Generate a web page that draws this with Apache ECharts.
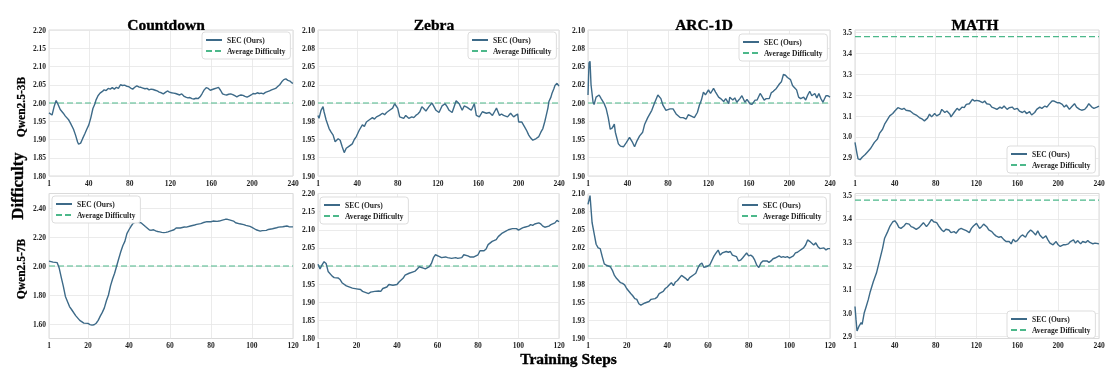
<!DOCTYPE html>
<html>
<head>
<meta charset="utf-8">
<script src="https://cdn.jsdelivr.net/npm/echarts@6/dist/echarts.min.js"></script>
<style>
html,body{margin:0;padding:0;background:#fff;}
#chart{width:1115px;height:368px;}
#chart svg{will-change:transform;}
</style>
</head>
<body>
<div id="chart"></div>
<script>
// ---------------- DATA ----------------
const titles = ['Countdown', 'Zebra', 'ARC-1D', 'MATH'];
const rowLabels = ['Qwen2.5-3B', 'Qwen2.5-7B'];
const yTitle = 'Difficulty';
const xTitle = 'Training Steps';
const seriesNames = ['SEC (Ours)', 'Average Difficulty'];

const xTicks240 = [1, 40, 80, 120, 160, 200, 240];
const xTicks120 = [1, 20, 40, 60, 80, 100, 120];

const yTicks05 = [1.80, 1.85, 1.90, 1.95, 2.00, 2.05, 2.10, 2.15, 2.20];
const yLabels05 = ['1.80', '1.85', '1.90', '1.95', '2.00', '2.05', '2.10', '2.15', '2.20'];
const yTicks025 = [1.90, 1.925, 1.95, 1.975, 2.00, 2.025, 2.05, 2.075, 2.10];
const yLabels025 = ['1.90', '1.93', '1.95', '1.98', '2.00', '2.02', '2.05', '2.08', '2.10'];
const yTicksMath = [2.9, 3.0, 3.1, 3.2, 3.3, 3.4, 3.5];
const yLabelsMath = ['2.9', '3.0', '3.1', '3.2', '3.3', '3.4', '3.5'];
const yTicksCd7 = [1.6, 1.8, 2.0, 2.2, 2.4];
const yLabelsCd7 = ['1.60', '1.80', '2.00', '2.20', '2.40'];

const avgDifficulty = [2.0, 2.0, 2.0, 3.48, 2.0, 2.0, 2.0, 3.48];

// Countdown, Qwen2.5-3B
const stepsCd3 = [1,4,6,8,10,12,15,17,20,22,25,27,29,30,32,34,36,38,40,42,44,46,47,49,51,53,55,57,59,61,63,65,67,69,71,73,75,77,79,81,83,85,87,89,91,93,95,97,99,101,103,105,107,109,111,113,115,117,119,121,123,125,127,129,131,133,135,137,139,141,143,145,147,149,151,153,155,157,159,161,163,165,167,169,171,173,175,177,179,181,183,185,187,189,191,193,195,197,199,201,203,205,207,209,211,213,215,217,219,221,223,225,227,229,231,233,235,237,239,240];
const valsCd3 = [1.973,1.967,1.99,2.007,1.995,1.982,1.972,1.964,1.955,1.945,1.928,1.912,1.893,1.887,1.89,1.903,1.915,1.928,1.94,1.96,1.985,1.998,2.008,2.02,2.027,2.031,2.036,2.034,2.04,2.038,2.042,2.038,2.043,2.04,2.05,2.048,2.049,2.046,2.045,2.041,2.038,2.043,2.047,2.044,2.043,2.041,2.039,2.04,2.036,2.038,2.037,2.035,2.033,2.03,2.028,2.025,2.029,2.033,2.03,2.028,2.027,2.026,2.024,2.022,2.025,2.019,2.016,2.014,2.015,2.012,2.011,2.013,2.012,2.017,2.026,2.036,2.042,2.04,2.035,2.037,2.039,2.041,2.043,2.035,2.025,2.023,2.022,2.024,2.025,2.023,2.02,2.017,2.02,2.022,2.021,2.018,2.016,2.019,2.022,2.026,2.025,2.028,2.026,2.027,2.025,2.029,2.031,2.033,2.036,2.038,2.04,2.045,2.05,2.058,2.064,2.066,2.062,2.06,2.055,2.054];

// Zebra, Qwen2.5-3B
const stepsZb3 = [1,2,4,6,7,9,12,14,16,18,21,23,25,27,29,32,35,37,39,42,45,47,49,52,55,57,59,62,65,67,69,72,75,77,80,82,84,86,88,91,94,96,98,100,102,104,106,108,111,114,116,118,121,124,127,129,131,134,136,138,141,144,146,149,151,153,156,158,161,164,166,168,171,174,176,178,181,183,185,187,189,192,195,197,199,200,203,206,208,210,212,214,217,220,222,224,226,227,229,230,232,233,235,236,238,240];
const valsZb3 = [1.983,1.979,1.99,1.995,1.988,1.977,1.965,1.96,1.956,1.947,1.951,1.949,1.94,1.932,1.938,1.941,1.944,1.95,1.954,1.963,1.97,1.968,1.974,1.977,1.98,1.978,1.981,1.983,1.986,1.984,1.987,1.99,1.993,1.999,1.993,1.981,1.98,1.979,1.983,1.979,1.981,1.98,1.983,1.985,1.988,1.995,1.992,1.989,1.995,2.0,1.995,1.99,1.987,1.996,1.999,1.995,1.99,1.987,1.995,2.003,1.999,1.99,1.996,1.994,1.992,1.99,1.999,1.983,1.981,1.988,1.987,1.986,1.987,1.983,1.988,1.993,1.983,1.985,1.983,1.982,1.981,1.986,1.981,1.983,1.985,1.974,1.974,1.967,1.962,1.956,1.952,1.949,1.951,1.954,1.96,1.965,1.975,1.981,1.993,2.002,2.008,2.013,2.02,2.024,2.027,2.023];

// ARC-1D, Qwen2.5-3B
const stepsArc3 = [1,2,3,4,6,7,9,12,14,17,19,21,23,25,27,28,31,33,36,39,42,45,47,49,52,55,57,60,64,67,70,73,75,78,82,85,88,92,95,98,100,103,106,109,111,113,115,117,120,122,125,127,130,132,135,137,140,141,144,146,148,151,153,156,158,161,163,166,168,171,172,175,177,180,182,184,187,190,192,194,196,198,201,203,205,207,209,211,214,216,218,220,222,225,227,229,231,233,236,238,240];
const valsArc3 = [2.011,2.055,2.057,2.025,2.001,1.998,2.008,2.011,2.006,1.999,1.992,1.98,1.964,1.966,1.971,1.96,1.944,1.941,1.94,1.946,1.953,1.946,1.94,1.947,1.955,1.96,1.971,1.98,1.99,2.001,2.011,2.006,1.997,1.99,1.992,1.992,1.985,1.98,1.98,1.978,1.984,1.982,1.98,1.987,1.997,2.004,2.015,2.011,2.018,2.013,2.02,2.015,2.008,2.006,2.002,2.006,1.999,2.008,2.004,2.007,2.001,2.006,2.01,2.001,2.005,1.999,1.998,2.004,2.004,2.013,2.011,2.004,2.006,2.006,2.014,2.016,2.02,2.026,2.029,2.039,2.038,2.035,2.032,2.024,2.021,2.018,2.008,2.006,2.008,2.004,2.011,2.016,2.01,2.013,2.007,2.013,2.006,2.001,2.01,2.01,2.008];

// MATH, Qwen2.5-3B
const stepsMath3 = [1,3,4,6,8,11,13,16,18,20,23,25,28,30,32,35,38,40,43,47,49,51,55,58,61,64,67,69,72,74,76,79,81,84,86,89,91,94,95,98,101,103,106,108,110,113,116,118,120,123,126,128,130,133,135,138,140,143,145,147,150,152,155,157,160,162,165,167,169,172,174,177,179,182,184,187,189,191,194,196,199,201,204,206,208,211,213,216,218,221,223,226,228,230,233,235,238,240];
const valsMath3 = [2.974,2.919,2.895,2.891,2.903,2.916,2.927,2.943,2.958,2.974,2.99,3.017,3.037,3.061,3.077,3.101,3.112,3.124,3.14,3.132,3.137,3.128,3.124,3.112,3.105,3.093,3.085,3.077,3.09,3.109,3.096,3.112,3.101,3.109,3.132,3.117,3.124,3.109,3.096,3.117,3.137,3.128,3.143,3.14,3.156,3.159,3.18,3.172,3.175,3.172,3.164,3.172,3.159,3.156,3.143,3.137,3.132,3.143,3.137,3.148,3.132,3.14,3.143,3.132,3.137,3.124,3.117,3.124,3.112,3.121,3.105,3.117,3.132,3.143,3.137,3.148,3.143,3.156,3.172,3.172,3.164,3.164,3.156,3.143,3.153,3.132,3.143,3.159,3.143,3.132,3.128,3.132,3.143,3.159,3.143,3.137,3.143,3.148];

// Countdown, Qwen2.5-7B
const stepsCd7 = [1,3,5,6,7,8,9,11,12,14,16,18,20,21,22,23,24,25,26,27,28,29,30,31,32,33,34,35,36,37,38,39,40,41,42,43,44,45,46,47,48,49,50,51,52,53,54,55,56,57,58,59,60,62,63,65,67,68,70,72,73,75,76,78,80,81,83,84,86,87,88,89,91,92,94,96,97,99,100,102,104,105,107,108,110,112,113,115,117,118,120];
const valsCd7 = [2.034,2.027,2.023,1.984,1.92,1.86,1.79,1.72,1.70,1.658,1.625,1.606,1.604,1.596,1.592,1.595,1.605,1.625,1.654,1.68,1.711,1.76,1.80,1.863,1.91,1.95,2.0,2.05,2.098,2.14,2.17,2.223,2.25,2.274,2.294,2.302,2.303,2.3,2.297,2.285,2.272,2.26,2.248,2.247,2.25,2.242,2.238,2.235,2.232,2.23,2.232,2.235,2.24,2.25,2.262,2.262,2.269,2.268,2.276,2.283,2.287,2.292,2.298,2.306,2.305,2.31,2.308,2.31,2.318,2.322,2.322,2.318,2.31,2.298,2.291,2.285,2.28,2.273,2.266,2.25,2.24,2.244,2.246,2.252,2.257,2.264,2.268,2.271,2.276,2.271,2.27];

// Zebra, Qwen2.5-7B
const stepsZb7 = [1,2,3,4,5,6,8,9,11,12,13,15,17,18,20,22,23,25,26,27,29,31,32,33,35,36,38,40,41,43,44,46,48,49,50,51,53,54,56,57,58,59,61,62,64,65,67,69,70,72,73,75,76,78,80,81,83,84,85,87,89,90,92,94,95,97,99,100,102,103,105,106,107,108,110,111,112,113,115,116,118,119,120];
const valsZb7 = [2.005,1.992,2.003,2.012,2.007,1.985,1.972,1.968,1.967,1.962,1.953,1.945,1.941,1.939,1.937,1.935,1.93,1.926,1.924,1.928,1.93,1.931,1.93,1.938,1.942,1.949,1.947,1.949,1.956,1.966,1.975,1.98,1.984,1.986,1.992,1.998,1.994,1.992,1.998,2.007,2.023,2.031,2.026,2.023,2.025,2.023,2.021,2.023,2.021,2.023,2.031,2.028,2.025,2.025,2.031,2.042,2.042,2.047,2.059,2.068,2.073,2.081,2.091,2.097,2.1,2.103,2.103,2.099,2.105,2.107,2.11,2.114,2.112,2.116,2.119,2.116,2.11,2.107,2.11,2.114,2.119,2.126,2.122];

// ARC-1D, Qwen2.5-7B
const stepsArc7 = [1,2,3,4,5,6,7,8,9,10,12,13,14,15,17,18,19,20,22,23,24,25,26,27,29,31,32,34,35,36,38,39,40,41,42,43,44,45,47,48,49,50,51,53,54,55,56,57,58,59,60,61,63,64,65,66,67,69,70,71,72,74,75,76,77,79,80,81,82,83,84,85,86,87,89,90,91,92,93,95,96,97,98,99,100,102,103,104,105,107,108,109,110,112,113,114,115,117,118,119,120];
const valsArc7 = [2.085,2.097,2.06,2.045,2.03,2.025,2.024,2.013,2.003,2.001,1.999,1.994,1.987,1.983,1.977,1.976,1.974,1.969,1.962,1.959,1.955,1.954,1.948,1.946,1.949,1.951,1.954,1.955,1.957,1.962,1.965,1.969,1.971,1.974,1.977,1.973,1.978,1.98,1.987,1.985,1.983,1.98,1.984,1.988,1.99,1.997,2.002,2.004,1.998,1.999,2.0,2.002,2.014,2.018,2.022,2.015,2.018,2.02,2.019,2.02,2.015,2.013,2.007,2.008,2.011,2.018,2.014,2.015,2.013,2.008,2.001,1.998,2.004,2.007,2.007,2.005,2.007,2.01,2.011,2.014,2.012,2.013,2.012,2.013,2.011,2.014,2.018,2.019,2.021,2.025,2.029,2.036,2.034,2.029,2.032,2.027,2.024,2.025,2.022,2.024,2.024];

// MATH, Qwen2.5-7B
const stepsMath7 = [1,2,3,5,7,8,10,12,14,16,19,22,24,26,28,30,33,35,38,40,42,44,46,49,51,54,56,58,61,64,66,68,71,73,76,78,81,83,86,88,90,93,95,98,100,103,105,107,110,113,115,117,120,123,125,127,130,132,135,137,139,142,144,147,149,152,154,156,158,160,163,165,168,170,173,175,178,180,182,185,188,190,192,195,198,200,202,205,207,210,212,215,217,219,222,224,227,229,231,234,236,240];
const valsMath7 = [3.028,2.972,2.924,2.945,2.959,2.952,3.0,3.028,3.057,3.092,3.134,3.17,3.205,3.24,3.275,3.318,3.346,3.367,3.388,3.392,3.381,3.364,3.36,3.37,3.381,3.378,3.367,3.364,3.356,3.364,3.374,3.384,3.367,3.378,3.398,3.388,3.384,3.37,3.353,3.346,3.356,3.353,3.342,3.346,3.339,3.356,3.36,3.356,3.35,3.342,3.36,3.37,3.381,3.36,3.367,3.378,3.367,3.353,3.346,3.336,3.328,3.322,3.325,3.311,3.304,3.304,3.294,3.314,3.304,3.308,3.325,3.332,3.322,3.339,3.353,3.346,3.332,3.35,3.332,3.318,3.328,3.311,3.297,3.29,3.304,3.29,3.283,3.29,3.29,3.294,3.304,3.311,3.297,3.308,3.294,3.304,3.3,3.308,3.3,3.294,3.297,3.294];

// ---------------- LAYOUT / STYLE ----------------
const LINE_COLOR = '#3d6a88';
const AVG_COLOR = '#4cb88a';
const SERIF = 'Liberation Serif';

const panels = [
  {steps: stepsCd3, vals: valsCd3, xTicks: xTicks240, yTicks: yTicks05, yLabels: yLabels05, yMin: 1.80, yMax: 2.20},
  {steps: stepsZb3, vals: valsZb3, xTicks: xTicks240, yTicks: yTicks025, yLabels: yLabels025, yMin: 1.90, yMax: 2.10},
  {steps: stepsArc3, vals: valsArc3, xTicks: xTicks240, yTicks: yTicks025, yLabels: yLabels025, yMin: 1.90, yMax: 2.10},
  {steps: stepsMath3, vals: valsMath3, xTicks: xTicks240, yTicks: yTicksMath, yLabels: yLabelsMath, yMin: 2.813, yMax: 3.512},
  {steps: stepsCd7, vals: valsCd7, xTicks: xTicks120, yTicks: yTicksCd7, yLabels: yLabelsCd7, yMin: 1.5, yMax: 2.5},
  {steps: stepsZb7, vals: valsZb7, xTicks: xTicks120, yTicks: yTicks05, yLabels: yLabels05, yMin: 1.80, yMax: 2.20},
  {steps: stepsArc7, vals: valsArc7, xTicks: xTicks120, yTicks: yTicks025, yLabels: yLabels025, yMin: 1.90, yMax: 2.10},
  {steps: stepsMath7, vals: valsMath7, xTicks: xTicks240, yTicks: yTicksMath, yLabels: yLabelsMath, yMin: 2.892, yMax: 3.508}
];

const colLeft = [49, 318, 588, 855];
const colWidth = [244, 241, 242, 244];
const rowTop = [30, 193.5];
const rowHeight = [146, 145];
const legendPos = [
  {left: 202, top: 32}, {left: 468, top: 32}, {left: 739, top: 34}, {left: 1007, top: 146},
  {left: 52, top: 196}, {left: 320, top: 197}, {left: 738, top: 197}, {left: 1007, top: 311}
];
const titleX = [166, 434, 704, 975];

const labelFont = {fontFamily: SERIF, fontWeight: 'bold', fontSize: 7.5, color: '#1e1e1e'};

const grids = [], xAxes = [], yAxes = [], series = [], legends = [];
panels.forEach((p, i) => {
  const col = i % 4, row = Math.floor(i / 4);
  grids.push({
    left: colLeft[col], top: rowTop[row], width: colWidth[col], height: rowHeight[row],
    show: true, borderColor: '#dadada', borderWidth: 1, backgroundColor: 'transparent'
  });
  const xMax = p.xTicks[p.xTicks.length - 1];
  xAxes.push({
    gridIndex: i, type: 'value', min: p.xTicks[0], max: xMax,
    axisLine: {show: false},
    axisTick: {show: false, customValues: p.xTicks},
    axisLabel: Object.assign({customValues: p.xTicks, margin: 3, showMinLabel: true, showMaxLabel: true}, labelFont),
    splitLine: {show: true, lineStyle: {color: '#e6e6e6', width: 0.8}}
  });
  const labelMap = {};
  p.yTicks.forEach((v, k) => { labelMap[v.toFixed(4)] = p.yLabels[k]; });
  yAxes.push({
    gridIndex: i, type: 'value', min: p.yMin, max: p.yMax,
    axisLine: {show: false},
    axisTick: {show: false, customValues: p.yTicks},
    axisLabel: Object.assign({
      customValues: p.yTicks, margin: 3,
      formatter: v => labelMap[Number(v).toFixed(4)] || ''
    }, labelFont),
    splitLine: {show: true, lineStyle: {color: '#e6e6e6', width: 0.8}}
  });
  series.push({
    name: seriesNames[0], type: 'line', xAxisIndex: i, yAxisIndex: i,
    data: p.steps.map((s, k) => [s, p.vals[k]]),
    symbol: 'none', lineStyle: {color: LINE_COLOR, width: 1.4}, itemStyle: {color: LINE_COLOR},
    z: 3, silent: true
  });
  series.push({
    name: seriesNames[1], type: 'line', xAxisIndex: i, yAxisIndex: i,
    data: [[p.xTicks[0], avgDifficulty[i]], [xMax, avgDifficulty[i]]],
    symbol: 'none', lineStyle: {color: AVG_COLOR, width: 1.2, type: [6, 3]}, itemStyle: {color: AVG_COLOR},
    z: 2, silent: true
  });
  legends.push({
    data: seriesNames, orient: 'vertical',
    left: legendPos[i].left, top: legendPos[i].top,
    backgroundColor: '#ffffff', borderColor: '#dddddd', borderWidth: 1, borderRadius: 3,
    padding: [4, 5, 4, 3], itemGap: 3, itemWidth: 16, itemHeight: 8,
    itemStyle: {color: 'rgba(0,0,0,0)', borderColor: 'rgba(0,0,0,0)', borderWidth: 0, opacity: 0},
    textStyle: {fontFamily: SERIF, fontWeight: 'bold', fontSize: 7.5, color: '#1e1e1e', padding: [0, 0, 0, 0]},
    selectedMode: false
  });
});

const bigText = {fontFamily: SERIF, fontWeight: 'bold', fill: '#000', stroke: '#000', lineWidth: 0.35, textAlign: 'center', textVerticalAlign: 'middle'};
const graphics = [];
titles.forEach((t, k) => {
  graphics.push({type: 'text', x: titleX[k], y: 24, style: Object.assign({text: t, fontSize: 15.5}, bigText)});
});
const rowY = [107, 269];
rowLabels.forEach((t, k) => {
  graphics.push({type: 'text', x: 20.5, y: rowY[k], rotation: Math.PI / 2, style: Object.assign({text: t, fontSize: 11.5}, bigText, {lineWidth: 0.25})});
});
graphics.push({type: 'text', x: 17, y: 186, rotation: Math.PI / 2, style: Object.assign({text: yTitle, fontSize: 16.5}, bigText)});
graphics.push({type: 'text', x: 568.5, y: 358, style: Object.assign({text: xTitle, fontSize: 15.5}, bigText)});

const chart = echarts.init(document.getElementById('chart'), null, {renderer: 'svg'});
chart.setOption({
  animation: false,
  backgroundColor: '#ffffff',
  grid: grids, xAxis: xAxes, yAxis: yAxes, series: series, legend: legends,
  graphic: graphics
});
</script>
</body>
</html>
